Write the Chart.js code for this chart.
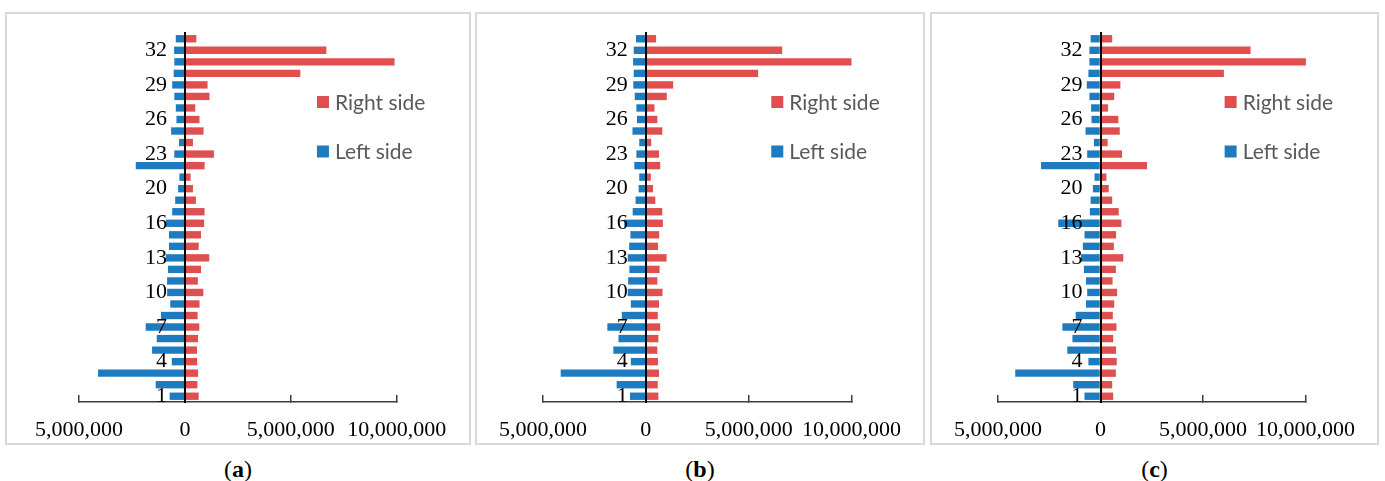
<!DOCTYPE html>
<html>
<head>
<meta charset="utf-8">
<script src="https://cdn.jsdelivr.net/npm/chart.js@4.4.1/dist/chart.umd.min.js"></script>
<style>
  html, body { margin: 0; padding: 0; background: #fff; }
  body { width: 1385px; height: 481px; position: relative; overflow: hidden; }
  .panel { position: absolute; top: 12px; height: 433px; box-sizing: border-box; border: 2px solid #d9d9d9; background: #fff; }
  .panel canvas { display: block; }
  .cap { position: absolute; top: 457px; height: 24px; line-height: 24px; font-family: "Liberation Serif", "Times New Roman", serif; font-size: 24px; text-align: center; color: #000; }
</style>
</head>
<body>
<div class="panel" style="left:5px;width:466px"><canvas id="chartA" width="462" height="429"></canvas></div>
<div class="panel" style="left:475px;width:450px"><canvas id="chartB" width="446" height="429"></canvas></div>
<div class="panel" style="left:930px;width:449px"><canvas id="chartC" width="445" height="429"></canvas></div>
<div class="cap" style="left:5px;width:466px">(<b>a</b>)</div>
<div class="cap" style="left:475px;width:450px">(<b>b</b>)</div>
<div class="cap" style="left:930px;width:449px">(<b>c</b>)</div>

<script>
// Segment numbers, bottom to top
const categories = ['1','2','3','4','5','6','7','8','9','10','11','12','13','14','15','16','17','18',
                    '20','21','22','23','24','25','26','27','28','29','30','31','32','33'];
// Segment numbers that carry a label on the vertical axis
const shownLabels = ['1','4','7','10','13','16','20','23','26','29','32'];
// Value-axis ticks
const xTickValues = [-5000000, 0, 5000000, 10000000];

// (a)
const leftA  = [-720000,-1380000,-4100000,-620000,-1550000,-1330000,-1850000,-1130000,-690000,-840000,-840000,-800000,-900000,-750000,-750000,-900000,-600000,-460000,
                -320000,-260000,-2320000,-500000,-280000,-650000,-400000,-430000,-500000,-600000,-530000,-500000,-510000,-430000];
const rightA = [650000,590000,620000,580000,570000,620000,680000,600000,690000,870000,610000,760000,1150000,650000,760000,910000,930000,520000,
                380000,270000,930000,1370000,380000,880000,690000,490000,1160000,1070000,5450000,9900000,6680000,540000];
// (b)
const leftB  = [-770000,-1420000,-4140000,-730000,-1580000,-1330000,-1870000,-1170000,-730000,-880000,-860000,-800000,-880000,-810000,-750000,-1050000,-640000,-500000,
                -350000,-320000,-560000,-460000,-320000,-650000,-430000,-460000,-540000,-610000,-590000,-620000,-590000,-480000];
const rightB = [610000,580000,640000,590000,560000,610000,700000,580000,640000,810000,560000,670000,1010000,590000,650000,830000,800000,460000,
                350000,240000,700000,640000,260000,800000,560000,420000,1020000,1330000,5460000,10000000,6630000,500000];
// (c)
const leftC  = [-780000,-1330000,-4160000,-590000,-1620000,-1370000,-1860000,-1210000,-710000,-650000,-710000,-810000,-950000,-860000,-780000,-2060000,-520000,-480000,
                -370000,-290000,-2900000,-650000,-320000,-730000,-440000,-460000,-540000,-670000,-590000,-540000,-540000,-480000];
const rightC = [620000,570000,750000,790000,760000,620000,780000,600000,670000,810000,590000,750000,1110000,650000,760000,1020000,890000,570000,
                400000,290000,2270000,1050000,350000,940000,870000,370000,670000,970000,6020000,10020000,7320000,570000];

const RED = '#DF4F4F';
const BLUE = '#1F7BC0';

// Moves the segment axis onto the zero line of the value axis,
// leaving room on its left for the tick labels
const axisAtZero = {
  id: 'axisAtZero',
  afterLayout(chart) {
    const zx = chart.scales.x.getPixelForValue(0);
    chart.scales.y.left = zx - 70;
    chart.scales.y.right = zx;
  }
};

// Legend drawn inside the plot area, stacked vertically
const insideLegend = {
  id: 'insideLegend',
  afterDraw(chart, args, opts) {
    const { ctx, chartArea } = chart;
    const x0 = chartArea.left + opts.fx * (chartArea.right - chartArea.left);
    ctx.save();
    ctx.font = '21px Lato, "Open Sans", sans-serif';
    ctx.textBaseline = 'middle';
    ctx.textAlign = 'left';
    chart.data.datasets.forEach((ds, i) => {
      const cy = chartArea.top + opts.top + i * opts.gap;
      ctx.fillStyle = ds.backgroundColor;
      ctx.fillRect(x0, cy - 6, 12, 12);
      ctx.fillStyle = '#595959';
      ctx.fillText(ds.label, x0 + 18, cy + 1);
    });
    ctx.restore();
  }
};

function makePanel(id, left, right, padL, padR, legendFx) {
  new Chart(document.getElementById(id), {
    type: 'bar',
    data: {
      labels: categories,
      datasets: [
        { label: 'Right side', data: right, backgroundColor: RED },
        { label: 'Left side',  data: left,  backgroundColor: BLUE }
      ]
    },
    options: {
      indexAxis: 'y',
      responsive: false,
      animation: false,
      events: [],
      layout: { padding: { left: padL, right: padR, top: 19, bottom: 0 } },
      datasets: { bar: { barPercentage: 0.64, categoryPercentage: 1, borderWidth: 0, clip: false } },
      plugins: {
        legend: { display: false },
        tooltip: { enabled: false },
        insideLegend: { fx: legendFx, top: 69, gap: 49.5 }
      },
      scales: {
        x: {
          type: 'linear',
          min: -5000000,
          max: 10000000,
          stacked: true,
          afterBuildTicks: s => { s.ticks = xTickValues.map(v => ({ value: v })); },
          afterFit: s => { s.height = 41; },
          border: { display: true, color: '#3c3c3c', width: 1.5 },
          grid: { display: true, drawOnChartArea: false, drawTicks: true, tickLength: -7, color: '#3c3c3c', lineWidth: 1.5 },
          ticks: {
            padding: 22,
            color: '#000',
            maxRotation: 0,
            font: { family: '"Liberation Serif", "Times New Roman", serif', size: 22 },
            callback: v => Math.abs(v).toLocaleString('en-US')
          }
        },
        y: {
          type: 'category',
          reverse: true,
          stacked: true,
          offset: true,
          position: 'left',
          afterFit: s => { s.width = 0; s.paddingTop = 0; s.paddingBottom = 0; },
          grid: { display: false, drawTicks: false },
          border: { display: true, color: '#000', width: 2, z: 1 },
          ticks: {
            z: 1,
            autoSkip: false,
            padding: 18,
            color: '#000',
            font: { family: '"Liberation Serif", "Times New Roman", serif', size: 22 },
            callback: function (v) {
              const lab = this.getLabelForValue(v);
              return shownLabels.includes(lab) ? lab : '';
            }
          }
        }
      }
    },
    plugins: [axisAtZero, insideLegend]
  });
}

makePanel('chartA', leftA, rightA, 72, 72.3, 0.749);
makePanel('chartB', leftB, rightB, 65.3, 66.3, 0.740);
makePanel('chartC', leftC, rightC, 65, 65.3, 0.737);
</script>
</body>
</html>
